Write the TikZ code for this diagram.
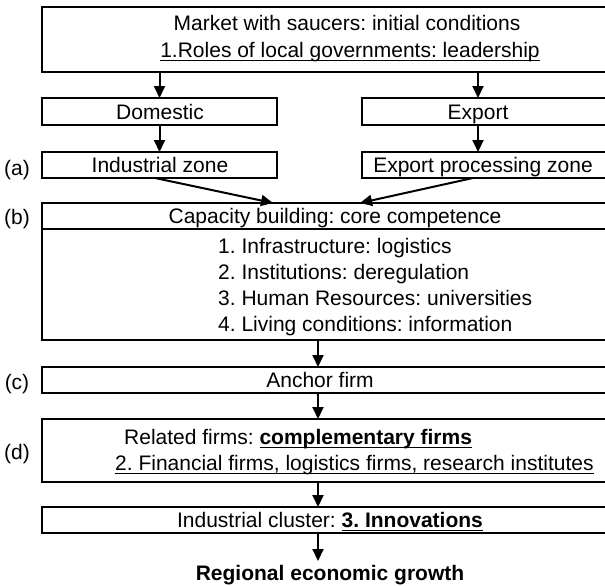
\documentclass[tikz,border=0pt]{standalone}
\usepackage{fontspec}
\setmainfont{Liberation Sans}
\frenchspacing
\newcommand\myul[1]{\setbox0\hbox{#1}\rlap{\rule[-3.2pt]{\wd0}{1.1pt}}\box0}
\usetikzlibrary{arrows.meta}
\begin{document}
\begin{tikzpicture}[x=1pt,y=-1pt,
  box/.style={draw, line width=2pt, inner sep=0, outer sep=0},
  txt/.style={inner sep=0, anchor=base, font=\fontsize{21}{24}\selectfont},
  ltxt/.style={txt, anchor=base west},
  arr/.style={line width=2pt, -{Triangle[width=11pt,length=12pt]}}]
\useasboundingbox (0,0) rectangle (605,586);
% boxes
\node[box, minimum width=573pt, minimum height=65pt] (top) at (328.5,39.5) {};
\node[box, minimum width=235pt, minimum height=27pt] (dom) at (159.5,111.5) {};
\node[box, minimum width=253pt, minimum height=27pt] (exp) at (488.5,111.5) {};
\node[box, minimum width=235pt, minimum height=26pt] (iz) at (159.5,165) {};
\node[box, minimum width=253pt, minimum height=26pt] (epz) at (488.5,165) {};
\node[box, minimum width=573pt, minimum height=137pt] (cap) at (328.5,271.5) {};
\coordinate (div) at (0,229);
\draw[line width=2pt] (cap.west |- div) -- (cap.east |- div);
\node[box, minimum width=573pt, minimum height=26pt] (anc) at (328.5,380) {};
\node[box, minimum width=573pt, minimum height=63pt] (rel) at (328.5,450.5) {};
\node[box, minimum width=573pt, minimum height=26pt] (ic) at (328.5,520) {};
% texts (baselines)
\node[txt] (t1) at (347,30.5) {Market with saucers: initial conditions};
\node[txt] (t2) at (350,57.5) {\myul{1.Roles of local governments: leadership}};
\node[txt] (tdom) at (160,119) {Domestic};
\node[txt] (texp) at (478,119) {Export};
\node[txt] (tiz) at (160,172.5) {Industrial zone};
\node[txt] (tepz) at (483,172.5) {Export processing zone};
\node[txt] (tcap) at (335,223.5) {Capacity building: core competence};
\node[ltxt] (c1) at (218,253.5) {1. Infrastructure: logistics};
\node[ltxt] (c2) at (218,279.5) {2. Institutions: deregulation};
\node[ltxt] (c3) at (218,305.5) {3. Human Resources: universities};
\node[ltxt] (c4) at (218,331.5) {4. Living conditions: information};
\node[txt] (tanc) at (320,387.5) {Anchor firm};
\node[ltxt] (r1) at (124,444.5) {Related firms: \textbf{\myul{complementary firms}}};
\node[ltxt] (r2) at (115,470.5) {\myul{2. Financial firms, logistics firms, research institutes}};
\node[txt] (tic) at (330,527.5) {Industrial cluster: \textbf{\myul{3. Innovations}}};
\node[txt] (grow) at (330,580) {\textbf{Regional economic growth}};
% side labels
\node[txt] (la) at (17,175.5) {(a)};
\node[txt] (lb) at (17,224.5) {(b)};
\node[txt] (lc) at (17,389.5) {(c)};
\node[txt] (ld) at (17,459.5) {(d)};
% arrows
\coordinate (ex) at (478,0);
\coordinate (cx) at (318,0);
\coordinate (izs) at (155,0);
\coordinate (epzs) at (473,0);
\coordinate (capl) at (273,0);
\coordinate (capr) at (360,0);
\coordinate (gtop) at (0,561);
\draw[arr] (top.south -| dom.north) -- (dom.north);
\draw[arr] (top.south -| ex) -- (exp.north -| ex);
\draw[arr] (dom.south) -- (iz.north);
\draw[arr] (exp.south -| ex) -- (epz.north -| ex);
\draw[arr] (iz.south -| izs) -- (cap.north -| capl);
\draw[arr] (epz.south -| epzs) -- (cap.north -| capr);
\draw[arr] (cap.south -| cx) -- (anc.north -| cx);
\draw[arr] (anc.south -| cx) -- (rel.north -| cx);
\draw[arr] (rel.south -| cx) -- (ic.north -| cx);
\draw[arr] (ic.south -| cx) -- (gtop -| cx);
\end{tikzpicture}
\end{document}
